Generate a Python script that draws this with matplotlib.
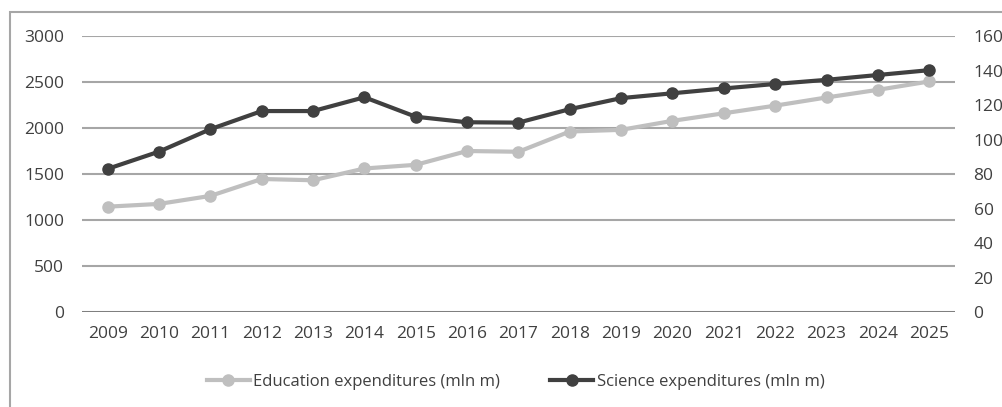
import matplotlib.pyplot as plt
from matplotlib.patches import Rectangle
from matplotlib.lines import Line2D
import numpy as np

plt.rcParams['font.family'] = ['Open Sans', 'DejaVu Sans']

years = [str(y) for y in range(2009, 2026)]
education = [1145, 1175, 1262, 1446, 1432, 1560, 1600, 1750, 1742, 1962, 1980,
             2078, 2160, 2243, 2332, 2415, 2506]
science = [83, 93, 106, 116.5, 116.5, 124.5, 113.2, 110, 109.8, 117.6, 124,
           126.8, 129.6, 132.2, 134.6, 137.4, 140.2]
left_ticks = [0, 500, 1000, 1500, 2000, 2500, 3000]
right_ticks = [0, 20, 40, 60, 80, 100, 120, 140, 160]

edu_color = '#BFBFBF'
sci_color = '#404040'
grid_color = '#A6A6A6'
text_color = '#404040'

fig = plt.figure(figsize=(10.03, 4.07), dpi=100)
ax = fig.add_axes([0.0818, 0.2334, 0.8702, 0.6781])
ax2 = ax.twinx()

x = np.arange(len(years))
ax.plot(x, education, color=edu_color, lw=3, marker='o', ms=8, zorder=3)
ax2.plot(x, science, color=sci_color, lw=3, marker='o', ms=8, zorder=3)

ax.set_xlim(-0.5, len(years) - 0.5)
ax.set_ylim(0, 3000)
ax2.set_ylim(0, 160)
ax.set_yticks(left_ticks)
ax2.set_yticks(right_ticks)
ax.set_xticks(x)
ax.set_xticklabels(years)

for a in (ax, ax2):
    for s in a.spines.values():
        s.set_visible(False)
    a.tick_params(length=0, labelsize=12.5, labelcolor=text_color)
ax.tick_params(axis='y', pad=13)
ax2.tick_params(axis='y', pad=13.5)
ax.tick_params(axis='x', pad=10)

for v in left_ticks[1:]:
    ax.axhline(v, color=grid_color, lw=1.5, zorder=1)
ax.axhline(0, color='#7F7F7F', lw=2.2, zorder=1)

handles = [Line2D([], [], color=edu_color, lw=3, marker='o', ms=8),
           Line2D([], [], color=sci_color, lw=3, marker='o', ms=8)]
fig.legend(handles, ['Education expenditures (mln m)', 'Science expenditures (mln m)'],
           loc='center', bbox_to_anchor=(0.514, 0.062), ncol=2, frameon=False,
           fontsize=12, labelcolor=text_color, handlelength=2.6,
           handletextpad=0.2, columnspacing=3.0)

fig.patches.append(Rectangle((10 / 1003, -0.01), 1.0, 1 - 12 / 407 + 0.01,
                             transform=fig.transFigure, fill=False,
                             edgecolor=grid_color, lw=1.5))

fig.savefig('out.png', dpi=100)
